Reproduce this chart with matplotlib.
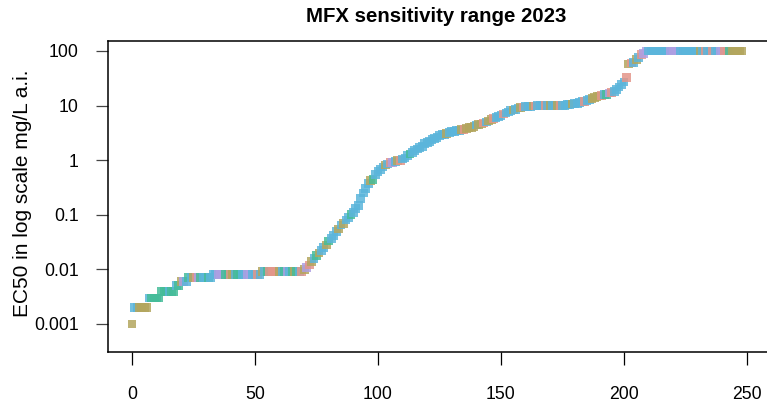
import numpy as np
import matplotlib.pyplot as plt

# EC50 values sorted, one per isolate (mg/L a.i.)
ec50 = [
    0.001, 0.002, 0.002, 0.002, 0.002, 0.002, 0.002, 0.003, 0.003, 0.003,
    0.003, 0.003, 0.004, 0.004, 0.004, 0.004, 0.004, 0.004, 0.005, 0.005,
    0.006, 0.006, 0.006, 0.007, 0.007, 0.007, 0.007, 0.007, 0.007, 0.007,
    0.007, 0.007, 0.007, 0.008, 0.008, 0.008, 0.008, 0.008, 0.008, 0.008,
    0.008, 0.008, 0.008, 0.008, 0.008, 0.008, 0.008, 0.008, 0.008, 0.008,
    0.008, 0.008, 0.008, 0.009, 0.009, 0.009, 0.009, 0.009, 0.009, 0.009,
    0.009, 0.009, 0.009, 0.009, 0.009, 0.009, 0.009, 0.009, 0.009, 0.009,
    0.01, 0.011, 0.012, 0.014, 0.016, 0.018, 0.02, 0.022, 0.025, 0.028,
    0.033, 0.037, 0.042, 0.05, 0.055, 0.065, 0.07, 0.08, 0.09, 0.1,
    0.11, 0.13, 0.15, 0.2, 0.25, 0.3, 0.38, 0.42, 0.45, 0.55,
    0.62, 0.68, 0.75, 0.82, 0.85, 0.9, 0.92, 0.95, 1.0, 1.0,
    1.05, 1.1, 1.2, 1.3, 1.4, 1.5, 1.6, 1.7, 1.8, 2.0,
    2.1, 2.2, 2.4, 2.5, 2.6, 2.8, 3.0, 3.0, 3.1, 3.2,
    3.3, 3.4, 3.5, 3.5, 3.6, 3.7, 3.8, 4.0, 4.0, 4.2,
    4.4, 4.5, 4.6, 4.8, 5.0, 5.2, 5.5, 5.8, 6.0, 6.3,
    6.6, 7.0, 7.3, 7.6, 8.0, 8.3, 8.6, 9.0, 9.2, 9.4,
    9.5, 9.6, 9.7, 9.8, 9.8, 9.9, 10, 10, 10, 10,
    10, 10, 10, 10, 10, 10, 10.2, 10.3, 10.5, 10.7,
    11, 11, 11.5, 12, 12, 12.5, 13, 13.5, 14, 14.5,
    15, 15.5, 16, 16, 17, 17.5, 18, 20, 22, 24,
    27, 33, 58, 60, 62, 70, 75, 85, 90, 100,
    100, 100, 100, 100, 100, 100, 100, 100, 100, 100,
    100, 100, 100, 100, 100, 100, 100, 100, 100, 100,
    100, 100, 100, 100, 100, 100, 100, 100, 100, 100,
    100, 100, 100, 100, 100, 100, 100, 100, 100,
]

# group code of each isolate
groups = ("OBBOOOO" "BGGGG" "GGGBGG" "BG" "OPB" "GBOSPGBBGB"
          "BBPPPGGSOBGGBBPPBBSB" "OBGSSSSOBGPBGOGBS"
          "OPSOBGOBBOGBBBOBOBBGBBBBBBBOGBB"
          "BBOBSPBOSB" "BBGBBBBBBB" "BBBBBBBOBB" "BBBOSOOOOB" "OOSBOOSBBB" "SBBBOBBOSB"
          "BBOSBBBSBO" "BBOSBBBBOB" "BBBSBBOOOO" "SBGPSBBBBB"
          "SOSBOBSPP"
          "BBBBBBBBBP" "PPPBBBBBBB" "BOBSBBSBBP" "PSSGOOOOO")

palette = {'B': '#5BB5DB', 'O': '#B3A65E', 'S': '#E3968A', 'G': '#45BC99', 'P': '#AE9FE3'}

assert len(groups) == len(ec50)

idx = np.arange(len(ec50))
cols = [palette[g] for g in groups]

plt.rcParams['font.family'] = ['Liberation Sans', 'DejaVu Sans']

fig = plt.figure(figsize=(7.67, 4.05), dpi=100)
ax = fig.add_axes([108 / 767, 53 / 405, 667 / 767, 311 / 405])

ax.scatter(idx, ec50, s=40, marker='s', c=cols, alpha=0.85, linewidths=0)

ax.set_yscale('log')
ax.set_ylim(10 ** -3.513, 10 ** 2.183)
ax.set_xlim(-9.76, 261.4)

ax.set_yticks([0.001, 0.01, 0.1, 1, 10, 100])
ax.set_yticklabels(['0.001', '0.01', '0.1', '1', '10', '100'])
ax.minorticks_off()
ax.set_xticks([0, 50, 100, 150, 200, 250])

for sp in ax.spines.values():
    sp.set_linewidth(1.1)
    sp.set_color('black')

ax.tick_params(axis='y', length=9, width=0.9, color='#444444', pad=12, labelsize=12.7)
ax.tick_params(axis='x', length=9.5, width=0.9, color='black', pad=15, labelsize=12.7)

fig.text(436.5 / 767, 1 - 17 / 405, 'MFX sensitivity range 2023', ha='center', va='center',
         fontsize=14.7, fontweight='bold')
fig.text(23 / 767, 1 - 193.5 / 405, 'EC50 in log scale mg/L a.i.', ha='center', va='center',
         rotation=90, fontsize=15)

fig.savefig('out.png', dpi=100)
